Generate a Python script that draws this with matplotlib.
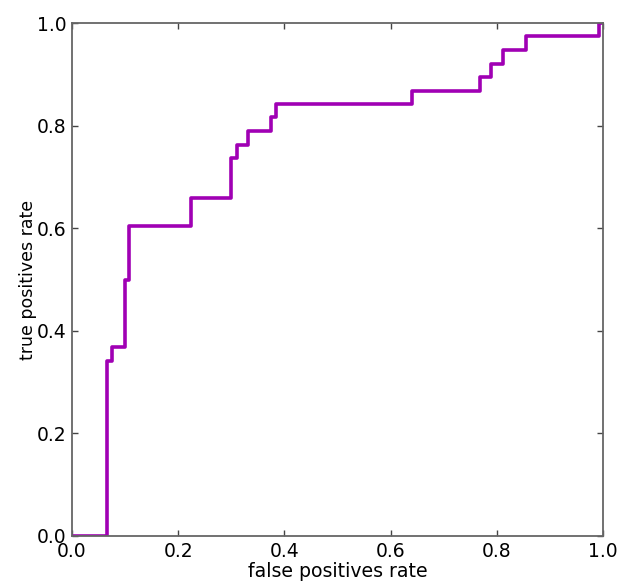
import matplotlib
matplotlib.use("Agg")
import matplotlib.pyplot as plt

# ROC curve vertices (step plot, horizontal then vertical)
fpr = [0.0, 0.066, 0.075, 0.099, 0.108, 0.225, 0.299, 0.310, 0.332,
       0.375, 0.385, 0.640, 0.769, 0.790, 0.811, 0.855, 0.993, 1.0]
tpr = [0.0, 0.342, 0.368, 0.500, 0.605, 0.658, 0.737, 0.763, 0.789,
       0.816, 0.842, 0.868, 0.895, 0.921, 0.947, 0.974, 1.000, 1.0]

ticks = [0.0, 0.2, 0.4, 0.6, 0.8, 1.0]
tick_labels = ["0.0", "0.2", "0.4", "0.6", "0.8", "1.0"]

fig = plt.figure(figsize=(6.25, 5.87), dpi=100)
ax = fig.add_axes([0.1152, 0.0869, 0.8496, 0.8739])

ax.step(fpr, tpr, where="post", color="#a000b4", linewidth=2.6)

ax.set_xlim(0, 1)
ax.set_ylim(0, 1)
ax.set_xticks(ticks)
ax.set_yticks(ticks)
ax.set_xticklabels(tick_labels, fontsize=13.5)
ax.set_yticklabels(tick_labels, fontsize=13.5)
ax.tick_params(direction="in", top=True, right=True, length=4, width=1,
               color="#444444")
ax.tick_params(axis="x", pad=4)
ax.tick_params(axis="y", pad=4)
for s in ax.spines.values():
    s.set_color("#666666")
    s.set_linewidth(1.3)

ax.set_xlabel("false positives rate", fontsize=13.6, labelpad=1)
ax.set_ylabel("true positives rate", fontsize=12.5, labelpad=0)

fig.savefig("out.png", dpi=100)
